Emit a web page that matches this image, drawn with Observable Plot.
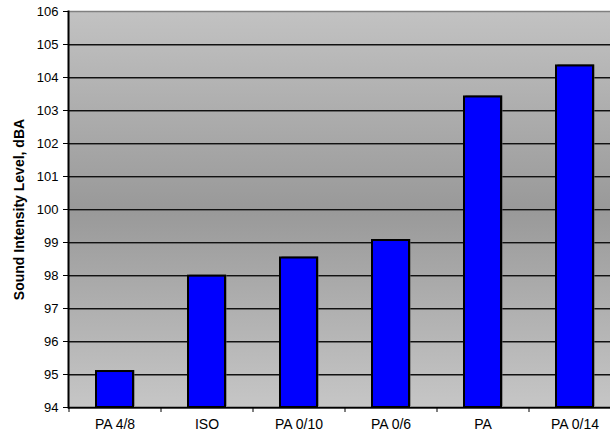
<!DOCTYPE html>
<html>
<head>
<meta charset="utf-8">
<script src="https://cdn.jsdelivr.net/npm/d3@7"></script>
<script src="https://cdn.jsdelivr.net/npm/@observablehq/plot@0.6"></script>
<style>
  html, body { margin: 0; padding: 0; background: #fff; }
  #chart { width: 610px; height: 441px; overflow: hidden; }
  #chart svg { max-width: none !important; }
</style>
</head>
<body>
<div id="chart"></div>
<script>
const categories = ["PA 4/8", "ISO", "PA 0/10", "PA 0/6", "PA", "PA 0/14"];
const values = [95.09, 97.98, 98.53, 99.06, 103.41, 104.35];
const yTicks = [94, 95, 96, 97, 98, 99, 100, 101, 102, 103, 104, 105, 106];
const yLabel = "Sound Intensity Level, dBA";

const data = categories.map((c, i) => ({category: c, value: values[i]}));

const W = 620, H = 441, mL = 68, mR = 0, mT = 11, mB = 34;
const step = (W - mL - mR) / categories.length;

const gradientDefs = () => {
  const defs = d3.create("svg:defs");
  const g = defs.append("linearGradient")
    .attr("id", "bg").attr("x1", 0).attr("y1", 0).attr("x2", 0).attr("y2", 1);
  g.append("stop").attr("offset", "0%").attr("stop-color", "#c2c2c2");
  g.append("stop").attr("offset", "50%").attr("stop-color", "#999999");
  g.append("stop").attr("offset", "100%").attr("stop-color", "#c6c6c6");
  return defs.node();
};

const plot = Plot.plot({
  width: W,
  height: H,
  marginLeft: mL,
  marginRight: mR,
  marginTop: mT,
  marginBottom: mB,
  style: {fontFamily: "'Liberation Sans', Arial, sans-serif", fontSize: "13px", color: "#000", background: "transparent", maxWidth: "none"},
  x: {domain: categories, paddingInner: 0.6, paddingOuter: 0.3, align: 0.5},
  y: {domain: [94, 106]},
  marks: [
    gradientDefs,
    Plot.frame({fill: "url(#bg)", stroke: null}),
    Plot.ruleY([106], {stroke: "#808080", strokeWidth: 1.5}),
    Plot.ruleY(yTicks.slice(0, -1), {stroke: "#666", strokeWidth: 1, dy: 1}),
    Plot.ruleY(yTicks.slice(0, -1), {stroke: "#111", strokeWidth: 1}),
    Plot.barY(data, {x: "category", y1: 94, y2: "value", fill: "#555", dx: 1.5, dy: -1}),
    Plot.barY(data, {x: "category", y1: 94, y2: "value", fill: "#0000ff", stroke: "#000", strokeWidth: 2}),
    Plot.ruleY([94], {stroke: "#000", strokeWidth: 1.5}),
    Plot.frame({anchor: "left", stroke: "#000", strokeWidth: 2}),
    Plot.axisY({
      ticks: yTicks, tickFormat: d3.format("d"), tickSize: 5, tickPadding: 5,
      stroke: "#000", fill: "#000", fontSize: 13,
      label: yLabel, labelAnchor: "center", labelArrow: "none", labelOffset: 54
    }),
    Plot.axisX({tickSize: 5, tickFormat: () => "", dx: -step / 2, stroke: "#000", label: null}),
    Plot.axisX({tickSize: 0, tickPadding: 12, fill: "#000", fontSize: 14, label: null})
  ]
});

d3.select(plot).selectAll("[aria-label='y-axis label'] text")
  .style("font-weight", "bold").style("font-size", "14px");

document.getElementById("chart").appendChild(plot);
</script>
</body>
</html>
